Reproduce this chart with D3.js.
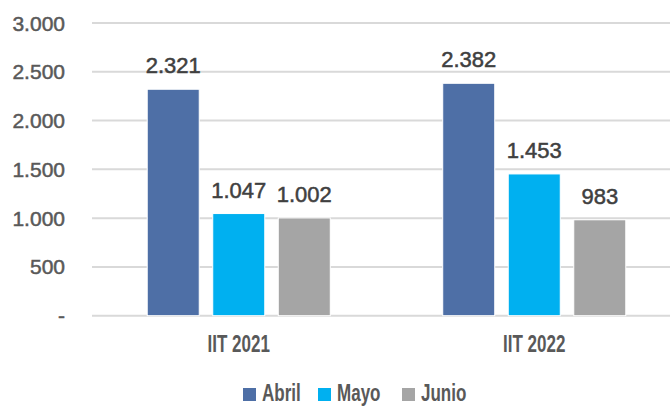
<!DOCTYPE html>
<html>
<head>
<meta charset="utf-8">
<script src="https://cdn.jsdelivr.net/npm/d3@7"></script>
<style>
body { margin: 0; background: #fff; }
.tick-label { font-family: "Liberation Sans", Arial, sans-serif; font-size: 21px; fill: #595959; stroke: #595959; stroke-width: 0.5px; }
.value-label { font-family: "Liberation Sans", Arial, sans-serif; font-size: 22px; fill: #404040; stroke: #404040; stroke-width: 0.5px; }
.cat-label, .legend-label { font-family: "Liberation Sans", Arial, sans-serif; font-size: 23px; font-weight: bold; fill: #595959; }
</style>
</head>
<body>
<div id="chart"></div>
<script>
var width = 670;
var height = 407;

// data
var groups = ["IIT 2021", "IIT 2022"];
var series = ["Abril", "Mayo", "Junio"];
var colors = ["#4e6fa6", "#00b0f0", "#a5a5a5"];
var abril = [2321, 2382];
var mayo = [1047, 1453];
var junio = [1002, 983];
var valueLabels = [["2.321", "2.382"], ["1.047", "1.453"], ["1.002", "983"]];
var yTicks = [0, 500, 1000, 1500, 2000, 2500, 3000];
var yTickLabels = ["-", "500", "1.000", "1.500", "2.000", "2.500", "3.000"];

var values = [abril, mayo, junio];
var narrow = 0.74; // squeeze for the condensed labels

var svg = d3.select("#chart").append("svg")
  .attr("width", width).attr("height", height);

var yScale = d3.scaleLinear().domain([0, 3000]).range([315.7, 23]);
var x0 = d3.scaleBand().domain(groups).range([91, 682]).padding(0);
var x1 = d3.scaleBand().domain(series).range([0, x0.bandwidth()])
  .paddingInner(0.206).paddingOuter(0.858);

// gridlines
svg.selectAll("line.grid").data(yTicks).enter().append("line")
  .attr("class", "grid")
  .attr("x1", 92).attr("x2", width)
  .attr("y1", function (d) { return yScale(d); })
  .attr("y2", function (d) { return yScale(d); })
  .attr("stroke", "#d9d9d9").attr("stroke-width", 2);

// y tick labels
svg.selectAll("text.tick-label").data(yTicks).enter().append("text")
  .attr("class", "tick-label")
  .attr("x", 65)
  .attr("y", function (d) { return yScale(d) + 7.5; })
  .attr("text-anchor", "end")
  .text(function (d, i) { return yTickLabels[i]; });

// bars
series.forEach(function (s, si) {
  var g = svg.append("g");
  g.selectAll("rect").data(values[si]).enter().append("rect")
    .attr("x", function (d, gi) { return x0(groups[gi]) + x1(s); })
    .attr("y", function (d) { return yScale(d); })
    .attr("width", x1.bandwidth())
    .attr("height", function (d) { return yScale(0) - yScale(d); })
    .attr("fill", colors[si])
    .attr("stroke", "#fff").attr("stroke-width", 1);

  g.selectAll("text").data(values[si]).enter().append("text")
    .attr("class", "value-label")
    .attr("x", function (d, gi) { return x0(groups[gi]) + x1(s) + x1.bandwidth() / 2; })
    .attr("y", function (d) { return yScale(d) - 16; })
    .attr("text-anchor", "middle")
    .text(function (d, gi) { return valueLabels[si][gi]; });
});

// category labels
svg.selectAll("text.cat-label").data(groups).enter().append("text")
  .attr("class", "cat-label")
  .attr("transform", function (d) {
    return "translate(" + (x0(d) + x0.bandwidth() / 2) + ",352) scale(" + narrow + ",1)";
  })
  .attr("text-anchor", "middle")
  .text(function (d) { return d; });

// legend
var legendX = [243, 318, 402];
var legend = svg.selectAll("g.legend").data(series).enter().append("g")
  .attr("class", "legend")
  .attr("transform", function (d, i) { return "translate(" + legendX[i] + ",388)"; });
legend.append("rect")
  .attr("width", 13).attr("height", 13)
  .attr("fill", function (d, i) { return colors[i]; });
legend.append("text")
  .attr("class", "legend-label")
  .attr("transform", "translate(19,13) scale(" + narrow + ",1)")
  .text(function (d) { return d; });
</script>
</body>
</html>
